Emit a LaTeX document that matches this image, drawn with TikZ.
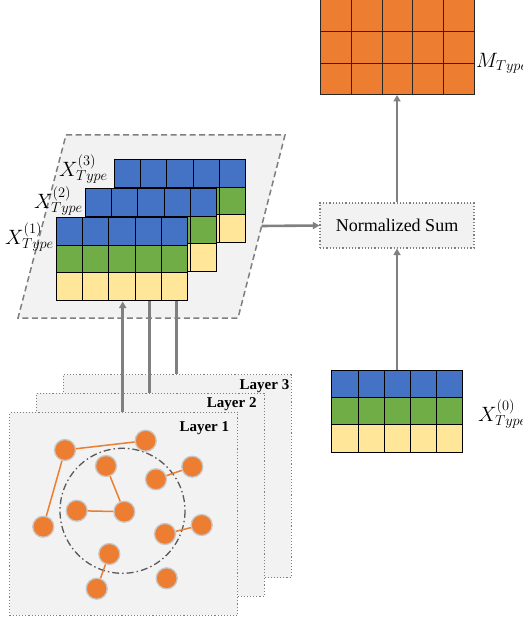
\documentclass[tikz,border=0pt]{standalone}
\usepackage{fontspec}
\setmainfont{Liberation Serif}
\usetikzlibrary{arrows.meta}
\definecolor{cblue}{HTML}{4472C4}
\definecolor{cgreen}{HTML}{70AD47}
\definecolor{cyellow}{HTML}{FFE699}
\definecolor{corange}{HTML}{ED7D31}
\definecolor{cpanel}{HTML}{F2F2F2}
\definecolor{carrow}{HTML}{808080}
\definecolor{cborder}{HTML}{7F7F7F}
\newcommand\tricolmat[4]{%
  \foreach \cc in {0,...,4}{%
    \foreach \colr [count=\rr from 0] in {cblue,cgreen,cyellow}{%
      \filldraw[fill=\colr,draw=black,line width=0.8pt] ({#1+\cc*#3},{#2+\rr*#4}) rectangle ++(#3,#4);
    }%
  }%
}
\begin{document}
\begin{tikzpicture}[x=1pt,y=-1pt,
  flow/.style={draw=carrow,line width=2.6pt,-{Triangle[length=6.5pt,width=7pt]}},
  plainflow/.style={draw=carrow,line width=2.6pt},
  layerbox/.style={draw=cborder,fill=cpanel,dotted,line width=1.1pt,minimum width=228pt,minimum height=203pt,inner sep=0pt},
  layerlabel/.style={font=\fontsize{15}{17}\selectfont\bfseries,inner sep=0pt},
  gnode/.style={circle,fill=corange,draw=black!22,line width=1.3pt,minimum size=21pt,inner sep=0pt},
  gedge/.style={draw=corange,line width=1.5pt},
  mathlabel/.style={inner sep=0pt,font=\fontsize{19.5}{23}\selectfont},
]
\useasboundingbox (0,0) rectangle (522,620);

% output matrix
\foreach \cc in {0,...,4}{\foreach \rr in {0,1,2}{
  \filldraw[fill=corange,draw=black!85,line width=0.8pt] ({320.5+\cc*30.7},{-0.5+\rr*31.8}) rectangle ++(30.7,31.8);
}}
\coordinate (mbot) at (397,95);
\node[mathlabel,anchor=west] (mlab) at (476,63) {$M_{Type}$};

% parallelogram panel
\filldraw[fill=cpanel,draw=cborder,dashed,dash pattern=on 6pt off 3.5pt,line width=1.5pt]
  (66,135) -- (285,135) -- (238,318) -- (18,318) -- cycle;
\coordinate (pr) at (261.6,226);

% stacked matrices
\tricolmat{114}{159.3}{26.3}{27.7}
\tricolmat{85}{188.3}{26.3}{27.7}
\tricolmat{56}{217.3}{26.3}{27.7}
\node[mathlabel,anchor=east] (x3) at (108,169) {$X^{(3)}_{Type}$};
\node[mathlabel,anchor=east] (x2) at (83,201) {$X^{(2)}_{Type}$};
\node[mathlabel,anchor=east] (x1) at (54,237) {$X^{(1)}_{Type}$};

% normalized sum
\node[draw=cborder,fill=cpanel,dotted,line width=1.2pt,minimum width=154pt,minimum height=45pt,inner sep=0pt,
  font=\fontsize{18}{21}\selectfont] (ns) at (397,225.5) {Normalized Sum};

% X0 matrix
\tricolmat{331.7}{370}{26.2}{27.4}
\coordinate (x0top) at (397,370);
\node[mathlabel,anchor=west] (x0) at (478,414) {$X^{(0)}_{Type}$};

% layers
\node[layerbox,anchor=north west] (l3) at (62.7,374) {};
\node[layerbox,anchor=north west] (l2) at (35.7,392.7) {};
\node[layerbox,anchor=north west] (l1) at (9.3,411.7) {};
\node[layerlabel,anchor=base east] (t3) at (289.5,389) {Layer 3};
\node[layerlabel,anchor=base east] (t2) at (256.7,407) {Layer 2};
\node[layerlabel,anchor=base east] (t1) at (229.3,431) {Layer 1};

% connectors
\coordinate (m1) at (122.7,301.5);
\coordinate (m2) at (149.3,300.5);
\coordinate (m3) at (176.3,300.5);
\coordinate (s1) at (122.7,411.7);
\coordinate (s2) at (149.3,392.7);
\coordinate (s3) at (176.3,374);
\draw[flow] (s1) -- (m1);
\draw[plainflow] (s2) -- (m2);
\draw[plainflow] (s3) -- (m3);
\draw[flow] (pr) -- (ns.west);
\draw[flow] (x0top) -- (ns.south);
\draw[flow] (ns.north) -- (mbot);

% graph in layer 1
\draw[draw=black!65,line width=1.3pt,dash pattern=on 7pt off 3pt on 1.5pt off 3pt] (122.5,510.8) circle[radius=62.5];
\node[gnode] (a) at (65,450) {};
\node[gnode] (b) at (145.7,440.7) {};
\node[gnode] (c) at (106,466) {};
\node[gnode] (d) at (156,479.3) {};
\node[gnode] (e) at (192.3,466.7) {};
\node[gnode] (f) at (76.7,510.7) {};
\node[gnode] (g) at (124.3,511.7) {};
\node[gnode] (h) at (43.3,526.7) {};
\node[gnode] (i) at (165,534) {};
\node[gnode] (j) at (201.7,525) {};
\node[gnode] (k) at (109.3,554) {};
\node[gnode] (l) at (96.7,588.7) {};
\node[gnode] (m) at (166.7,578.3) {};
\draw[gedge] (a) -- (b);
\draw[gedge] (a) -- (h);
\draw[gedge] (c) -- (g);
\draw[gedge] (f) -- (g);
\draw[gedge] (d) -- (e);
\draw[gedge] (i) -- (j);
\draw[gedge] (k) -- (l);
\end{tikzpicture}
\end{document}
